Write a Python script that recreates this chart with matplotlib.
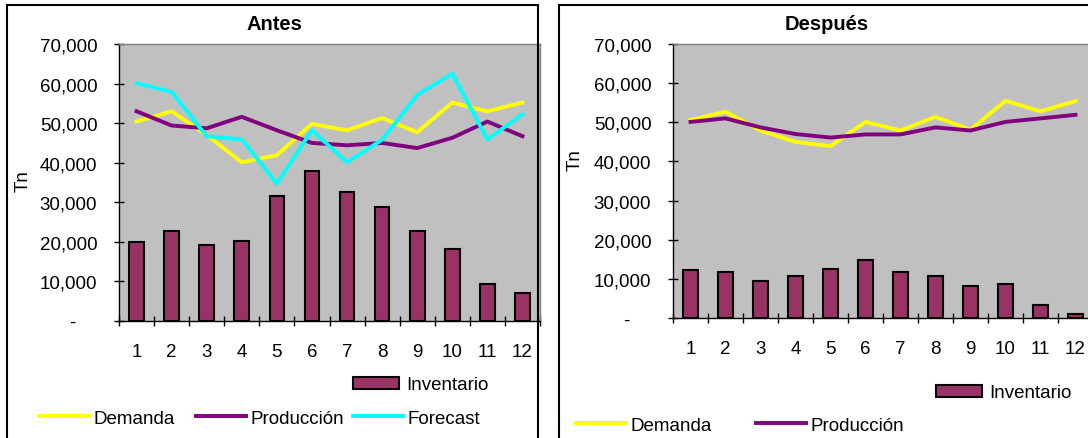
import numpy as np
import matplotlib as mpl
mpl.use("Agg")
import matplotlib.pyplot as plt
from matplotlib.patches import Rectangle
from matplotlib.ticker import FuncFormatter

# Excel 97 palette
YELLOW, PURPLE, CYAN, WINE = "#FFFF00", "#800080", "#00FFFF", "#993366"
PLOT_BG, BORDER = "#C0C0C0", "#808080"
FS = 13.5

mpl.rcParams.update({
    "font.family": ["Liberation Sans", "DejaVu Sans"],
    "font.size": FS,
    "figure.facecolor": "white",
    "axes.linewidth": 1.0,
})

W, H = 1088, 439  # canvas in pixels at dpi=100

meses = list(range(1, 13))

# --- Antes -------------------------------------------------------------------
inv_antes = [20000, 22700, 19100, 20100, 31600, 37900,
             32500, 28900, 22700, 18300, 9400, 7200]
dem_antes = [50400, 53000, 47000, 40100, 41900, 49800,
             48200, 51300, 47700, 55200, 53000, 55200]
prod_antes = [53000, 49400, 48700, 51600, 48200, 45000,
              44400, 45000, 43700, 46300, 50400, 46700]
fcst_antes = [60100, 57900, 46700, 45900, 34700, 48200,
              40100, 45800, 57100, 62500, 45900, 52200]

# --- Después -----------------------------------------------------------------
inv_desp = [12200, 11700, 9500, 10800, 12600, 14900,
            11700, 10800, 8200, 8600, 3200, 900]
dem_desp = [50600, 52700, 47900, 45000, 43900, 50100,
            47900, 51400, 48100, 55500, 52800, 55400]
prod_desp = [50100, 51000, 48700, 47000, 46100, 46900,
             46900, 48700, 47900, 50100, 51000, 51900]


def px_rect(x0, y0, x1, y1):
    """pixel box (top-left origin) -> figure fraction [l, b, w, h]"""
    return [x0 / W, 1 - y1 / H, (x1 - x0) / W, (y1 - y0) / H]


def fmt_tn(v, _):
    # accounting style: zero shown as a dash
    return f"{v:,.0f}" if v else "-    "


def panel(fig, box, inv, series):
    ax = fig.add_axes(px_rect(*box))
    ax.set_facecolor(PLOT_BG)
    bars = ax.bar(meses, inv, width=0.42, color=WINE, edgecolor="black",
                  lw=1.5, zorder=2, label="Inventario")
    lines = [ax.plot(meses, v, color=c, lw=2.8, zorder=3, label=lab)[0]
             for v, c, lab in series]

    ax.set_xlim(0.5, 12.5)
    ax.set_ylim(0, 70000)
    ax.set_xticks(np.arange(0.5, 13, 1))
    ax.set_xticklabels([])
    ax.set_xticks(meses, minor=True)
    ax.set_xticklabels([str(m) for m in meses], minor=True)
    ax.set_yticks(range(0, 70001, 10000))
    ax.yaxis.set_major_formatter(FuncFormatter(fmt_tn))
    ax.tick_params(which="major", direction="inout", length=7.2, width=1,
                   color="black", labelsize=FS)
    ax.tick_params(axis="y", pad=12)
    ax.tick_params(axis="x", which="minor", length=0, pad=16, labelsize=FS)

    for s in ("top", "right"):
        ax.spines[s].set_color(BORDER)
    for s in ("left", "bottom"):
        ax.spines[s].set_color("black")
    return bars, lines


def entry(fig, handle, label, x, y, hl, hh=0.7, tp=0.25):
    fig.legend([handle], [label], loc="center left",
               bbox_to_anchor=(x / W, 1 - y / H), frameon=False,
               borderpad=0, borderaxespad=0, handlelength=hl,
               handleheight=hh, handletextpad=tp, fontsize=FS)


fig = plt.figure(figsize=(W / 100, H / 100), dpi=100)

# outer chart frames (bottom edges fall outside the canvas)
for x0, x1 in ((6.5, 538), (559, 1110)):
    fig.add_artist(Rectangle((x0 / W, -0.1), (x1 - x0) / W, 1.1 - 6.5 / H,
                             transform=fig.transFigure, fill=False,
                             ec="black", lw=1.5, clip_on=False))

# left: Antes
bars, (ld, lp, lf) = panel(fig, (119, 45, 540, 322), inv_antes,
                           [(dem_antes, YELLOW, "Demanda"),
                            (prod_antes, PURPLE, "Producción"),
                            (fcst_antes, CYAN, "Forecast")])
fig.text(274 / W, 1 - 24 / H, "Antes", ha="center", va="center",
         fontsize=14.5, fontweight="bold")
fig.text(23.5 / W, 1 - 181 / H, "Tn", rotation=90, ha="center", va="center")
entry(fig, bars, "Inventario", 353, 386, hl=2.45, hh=0.6, tp=0.4)
entry(fig, ld, "Demanda", 39, 419, hl=2.65)
entry(fig, lp, "Producción", 196, 419, hl=2.65)
entry(fig, lf, "Forecast", 353, 419, hl=2.65)

# right: Después
bars, (ld, lp) = panel(fig, (673, 45, 1093, 319), inv_desp,
                       [(dem_desp, YELLOW, "Demanda"),
                        (prod_desp, PURPLE, "Producción")])
fig.text(826.5 / W, 1 - 24 / H, "Después", ha="center", va="center",
         fontsize=14.5, fontweight="bold")
fig.text(575 / W, 1 - 160 / H, "Tn", rotation=90, ha="center", va="center")
entry(fig, bars, "Inventario", 936, 394, hl=2.45, hh=0.6, tp=0.4)
entry(fig, ld, "Demanda", 576, 426, hl=2.65)
entry(fig, lp, "Producción", 756, 426, hl=2.65)

fig.savefig("out.png", dpi=100)
